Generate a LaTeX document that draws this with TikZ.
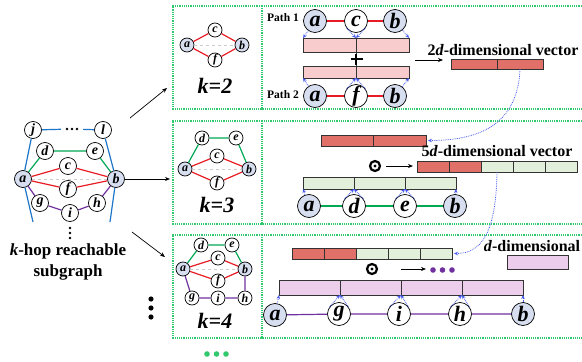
\documentclass[tikz,border=0pt]{standalone}
\usepackage{fontspec}
\setmainfont{Liberation Serif}
\usetikzlibrary{arrows.meta,calc}

\definecolor{edgered}{RGB}{232,28,36}
\definecolor{edgegreen}{RGB}{0,168,84}
\definecolor{edgeblue}{RGB}{30,118,200}
\definecolor{edgepurple}{RGB}{112,48,160}
\definecolor{endfill}{RGB}{214,222,240}
\definecolor{boxgreen}{RGB}{50,200,110}
\definecolor{flowblue}{RGB}{70,90,235}
\definecolor{pinkB}{RGB}{248,204,204}
\definecolor{redB}{RGB}{224,112,104}
\definecolor{greenB}{RGB}{226,239,218}
\definecolor{purpB}{RGB}{236,206,236}

\tikzset{
  vx/.style={circle,draw,line width=0.7pt,fill=white,inner sep=0pt,
    minimum size=17pt,font=\fontsize{14}{14}\selectfont\bfseries\itshape},
  sv/.style={vx,minimum size=14pt,font=\fontsize{12}{12}\selectfont\bfseries\itshape},
  bv/.style={vx,minimum size=23pt,font=\fontsize{22}{22}\selectfont\bfseries\itshape},
  redE/.style={draw=edgered,line width=1.2pt},
  greenE/.style={draw=edgegreen,line width=1.2pt},
  blueE/.style={draw=edgeblue,line width=1.2pt},
  purpE/.style={draw=edgepurple,line width=1.2pt},
  dashE/.style={draw=gray!40,dashed,line width=1pt},
  gbox/.style={draw=boxgreen,densely dotted,line width=1.2pt},
  flow/.style={draw=flowblue,densely dotted,line width=0.8pt,-{Stealth[length=4pt,width=3.5pt]}},
  arr/.style={-{Stealth[length=5pt,width=4pt]},line width=0.7pt},
  barline/.style={draw=black!80,line width=0.7pt},
  odot/.style={circle,draw,line width=2.2pt,minimum size=10pt,inner sep=0pt,
    path picture={\fill (path picture bounding box.center) circle (1.6pt);}},
  lbl/.style={font=\fontsize{16}{16}\selectfont\bfseries},
  pl/.style={font=\fontsize{11.5}{12}\selectfont\bfseries},
  kl/.style={font=\fontsize{22}{22}\selectfont\bfseries\itshape},
}

% bar of segments: name, left x, top y, segment width, height, colours
\newcommand\segbar[6]{%
  \coordinate (#1t0) at (#2,#3);
  \coordinate (#1b0) at (#2,#3+#5);
  \foreach \col [count=\k] in {#6} {
    \draw[barline,fill=\col] (#2+\k*#4-#4,#3) rectangle ++(#4,#5);
    \coordinate (#1t\k) at (#2+\k*#4,#3);
    \coordinate (#1b\k) at (#2+\k*#4,#3+#5);
  }
}

\begin{document}
\begin{tikzpicture}[x=1pt,y=-1pt]
  \useasboundingbox (0,0) rectangle (582,362);

  % k-hop reachable subgraph
  \foreach \xy/\n/\f in {(23,179)/a/endfill,(116,179)/b/endfill,(68,166)/c/white,
      (45,151)/d/white,(95,151)/e/white,(68,189)/f/white,(40,203)/g/white,
      (97,203)/h/white,(70,213)/i/white,(33,130)/j/white,(103,130)/l/white}
    \node[vx,fill=\f] (L\n) at \xy {\n};
  \node[inner sep=0pt,minimum width=22pt,minimum height=6pt] (Ldots) at (72,129) {};
  \foreach \x in {-5,0,5} \fill ([xshift=\x pt]Ldots.center) circle (1.4);
  \coordinate (Lal) at (33,222);
  \coordinate (Lbl) at (110,222);
  \draw[blueE] (Lj) -- (Ldots) -- (Ll);
  \draw[blueE] (Lj) -- (La) -- (Lal);
  \draw[blueE] (Ll) -- (Lb) -- (Lbl);
  \draw[greenE] (La) -- (Ld) -- (Le) -- (Lb);
  \draw[redE] (La) -- (Lc) -- (Lb) -- (Lf) -- (La);
  \draw[dashE] (La) -- (Lb);
  \draw[purpE] (La) -- (Lg) -- (Li) -- (Lh) -- (Lb);
  \foreach \y in {228,233,238} \fill (70,\y) circle (1.3);
  \node[font=\fontsize{17}{21}\selectfont\bfseries,align=center] (Ltitle) at (68,262)
    {\textit{k}-hop reachable\\subgraph};

  \coordinate (s1) at (130,118); \coordinate (t1) at (167,88);
  \coordinate (t2) at (170,179);
  \coordinate (s3) at (132,232); \coordinate (t3) at (165,257);
  \draw[arr] (s1) -- (t1);
  \draw[arr] (Lb) -- (t2);
  \draw[arr] (s3) -- (t3);
  \foreach \y in {299,308,317} \fill (151,\y) circle (2.6);
  \foreach \x in {207,216.5,226} \fill[boxgreen] (\x,354) circle (2.8);

  % panels
  \foreach \y in {6,121,235}
    \draw[gbox] (262,\y) -- (173,\y) -- (173,\y+103) -- (262,\y+103)
      (262,\y) rectangle (584,\y+103);

  % k=2
  \foreach \xy/\n/\f in {(187,45)/a/endfill,(242,45)/b/endfill,(215,30)/c/white,(215,60)/f/white}
    \node[sv,fill=\f] (k2\n) at \xy {\n};
  \draw[redE] (k2a) -- (k2c) -- (k2b) -- (k2f) -- (k2a);
  \draw[dashE] (k2a) -- (k2b);
  \node[kl] (k2l) at (215,86) {k=2};

  \node[pl] (path1) at (283,18) {Path 1};
  \node[pl] (path2) at (283,95) {Path 2};
  \foreach \xy/\n/\f in {(315,21)/a/endfill,(356,21)/c/white,(395,21)/b/endfill}
    \node[bv,fill=\f] (p1\n) at \xy {\n};
  \foreach \xy/\n/\f in {(315,96)/a/endfill,(356,96)/f/white,(395,96)/b/endfill}
    \node[bv,fill=\f] (p2\n) at \xy {\n};
  \draw[redE] (p1a) -- (p1c) -- (p1b);
  \draw[redE] (p2a) -- (p2f) -- (p2b);
  \segbar{P}{303}{38}{53}{14}{pinkB,pinkB}
  \segbar{Q}{303}{66}{53}{12}{pinkB,pinkB}
  \draw[barline] (Pb1) -- (Qt1);
  \draw[line width=2.6pt] (350.5,59) -- (362.5,59) (356,53.5) -- (356,64.5);
  \draw[flow] (p1a) -- (Pt0);
  \draw[flow] (p1c.215) -- (Pt1);
  \draw[flow] (p1c.325) -- (Pt1);
  \draw[flow] (p1b) -- (Pt2);
  \draw[flow] (p2a) -- (Qb0);
  \draw[flow] (p2f.145) -- (Qb1);
  \draw[flow] (p2f.35) -- (Qb1);
  \draw[flow] (p2b) -- (Qb2);
  \coordinate (a2s) at (415,60); \coordinate (a2e) at (443,60);
  \draw[arr] (a2s) -- (a2e);
  \node[lbl] (vec2) at (503,50) {2\textit{d}-dimensional vector};
  \segbar{D}{451}{59}{46}{10}{redB,redB}

  % k=3
  \foreach \xy/\n/\f in {(185,169)/a/endfill,(249,169)/b/endfill,(217,156)/c/white,
      (202,138)/d/white,(236,138)/e/white,(217,183)/f/white}
    \node[sv,fill=\f] (k3\n) at \xy {\n};
  \draw[greenE] (k3a) -- (k3d) -- (k3e) -- (k3b);
  \draw[redE] (k3a) -- (k3c) -- (k3b) -- (k3f) -- (k3a);
  \draw[dashE] (k3a) -- (k3b);
  \node[kl] (k3l) at (217,205) {k=3};

  \segbar{R}{321}{135}{52.5}{11}{redB,redB}
  \coordinate (Rin) at (428,140.5);
  \draw[flow] ($(Db1)!0.5!(Db2)$) .. controls (518,118) and (488,140.5) .. (Rin);
  \node[odot] (o2) at (375,166) {};
  \coordinate (a3s) at (386,166); \coordinate (a3e) at (413,166);
  \draw[arr] (a3s) -- (a3e);
  \node[lbl] (vec5) at (497,151) {5\textit{d}-dimensional vector};
  \segbar{F}{417}{161}{32}{11}{redB,redB,greenB,greenB,greenB}
  \segbar{G}{303}{177}{51}{12}{greenB,greenB,greenB}
  \foreach \xy/\n/\f in {(309,206)/a/endfill,(354,206)/d/white,(405,206)/e/white,(455,206)/b/endfill}
    \node[bv,fill=\f] (r2\n) at \xy {\n};
  \draw[greenE] (r2a) -- (r2d) -- (r2e) -- (r2b);
  \draw[flow] (r2a) -- (Gb0);
  \draw[flow] (r2d.145) -- (Gb1);
  \draw[flow] (r2d.35) -- (Gb1);
  \draw[flow] (r2e.145) -- (Gb2);
  \draw[flow] (r2e.35) -- (Gb2);
  \draw[flow] (r2b) -- (Gb3);

  % k=4
  \foreach \xy/\n/\f in {(183,269)/a/endfill,(245,269)/b/endfill,(218,258)/c/white,
      (201,245)/d/white,(232,245)/e/white,(218,281)/f/white,(192,298)/g/white,
      (245,298)/h/white,(218,298)/i/white}
    \node[sv,fill=\f] (k4\n) at \xy {\n};
  \draw[greenE] (k4a) -- (k4d) -- (k4e) -- (k4b);
  \draw[redE] (k4a) -- (k4c) -- (k4b) -- (k4f) -- (k4a);
  \draw[dashE] (k4a) -- (k4b);
  \draw[purpE] (k4a) -- (k4g) -- (k4i) -- (k4h) -- (k4b);
  \node[kl] (k4l) at (215,321) {k=4};

  \segbar{S}{292}{248}{32}{11}{redB,redB,greenB,greenB,greenB}
  \coordinate (Sin) at (454,253.5);
  \draw[flow] ($(Fb2)!0.5!(Fb3)$) .. controls (496,232) and (482,253.5) .. (Sin);
  \node[odot] (o3) at (372,269) {};
  \coordinate (a4s) at (401,269); \coordinate (a4e) at (426,269);
  \draw[arr] (a4s) -- (a4e);
  \foreach \x in {433,442.5,452} \fill[edgepurple] (\x,270) circle (2.8);
  \node[lbl] (vec1) at (532,246) {\textit{d}-dimensional};
  \segbar{U}{507}{255}{61}{14}{purpB}
  \segbar{W}{279}{280}{61}{15}{purpB,purpB,purpB,purpB}
  \foreach \xy/\n/\f in {(275,315)/a/endfill,(339,314)/g/white,(399,314)/i/white,
      (460,314)/h/white,(523,314)/b/endfill}
    \node[bv,fill=\f] (r3\n) at \xy {\n};
  \draw[purpE] (r3a) -- (r3g) -- (r3i) -- (r3h) -- (r3b);
  \draw[flow] (r3a) -- (Wb0);
  \foreach \n/\k in {g/1,i/2,h/3} {
    \draw[flow] (r3\n.145) -- (Wb\k);
    \draw[flow] (r3\n.35) -- (Wb\k);
  }
  \draw[flow] (r3b) -- (Wb4);
\end{tikzpicture}
\end{document}
